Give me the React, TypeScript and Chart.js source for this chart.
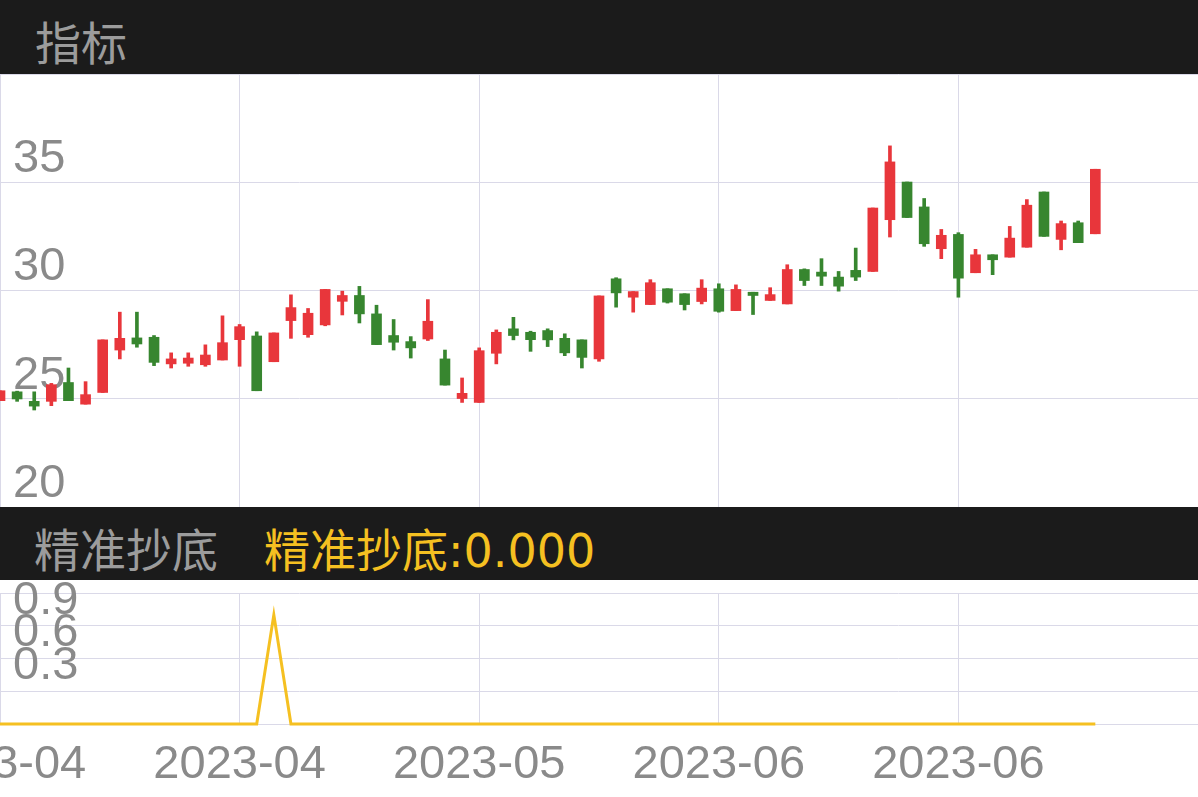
import React, { useEffect, useRef } from 'react';
import { Chart, registerables } from 'chart.js';

Chart.register(...registerables);

// ---- data ----
const openP = [
  24.91, 25.32, 24.88, 24.88, 25.75, 24.75, 25.29, 27.25, 27.81, 27.84,
  26.61, 26.64, 26.57, 26.79, 27.73, 27.90, 26.71, 28.61, 27.96, 28.41,
  29.50, 29.77, 28.92, 27.92, 27.64, 27.76, 26.84, 25.01, 24.83, 27.10,
  28.23, 28.07, 28.15, 27.79, 27.72, 26.84, 30.54, 29.69, 29.35, 30.08,
  29.85, 29.49, 30.08, 29.07, 29.92, 29.54, 29.38, 30.97, 30.85, 30.62,
  30.93, 30.88, 33.27, 35.01, 33.86, 31.93, 32.59, 30.82, 31.65, 31.54,
  32.00, 34.55, 32.36, 33.13, 32.62,
];
const closeP = [
  25.37, 24.99, 24.66, 25.65, 24.91, 25.19, 27.72, 27.79, 27.53, 26.68,
  26.84, 26.88, 27.02, 27.59, 28.33, 25.37, 28.04, 29.21, 28.95, 30.05,
  29.77, 28.92, 27.50, 27.61, 27.35, 28.58, 25.63, 25.25, 27.22, 28.07,
  27.92, 27.73, 27.72, 27.12, 26.91, 29.75, 29.89, 29.95, 30.36, 29.46,
  29.35, 30.11, 29.04, 30.05, 29.77, 29.81, 30.97, 30.46, 30.66, 30.20,
  30.62, 33.81, 35.94, 33.37, 32.16, 32.55, 30.57, 31.65, 31.42, 32.42,
  33.94, 32.50, 33.09, 32.21, 35.60,
];
const highP = [
  25.37, 25.35, 25.32, 25.71, 26.42, 25.79, 27.72, 29.00, 29.00, 27.92,
  27.12, 27.12, 27.49, 28.83, 28.43, 28.09, 28.04, 29.80, 29.17, 30.05,
  29.97, 30.19, 29.32, 28.66, 27.87, 29.58, 27.25, 25.96, 27.35, 28.18,
  28.76, 28.12, 28.23, 28.00, 27.72, 29.75, 30.59, 29.95, 30.50, 30.08,
  29.85, 30.50, 30.31, 30.26, 29.92, 30.13, 31.19, 31.00, 31.47, 30.88,
  31.96, 33.81, 36.68, 35.01, 34.25, 32.82, 32.67, 31.90, 31.65, 32.96,
  34.20, 34.55, 33.21, 33.21, 35.60,
];
const lowP = [
  24.91, 24.88, 24.48, 24.68, 24.91, 24.75, 25.29, 26.84, 27.38, 26.53,
  26.42, 26.50, 26.50, 26.79, 26.50, 25.37, 26.71, 27.79, 27.84, 28.37,
  28.87, 28.50, 27.50, 27.25, 26.88, 27.69, 25.63, 24.83, 24.83, 26.61,
  27.72, 27.19, 27.41, 26.99, 26.42, 26.73, 29.23, 29.00, 29.35, 29.42,
  29.10, 29.38, 29.00, 29.07, 28.89, 29.54, 29.38, 30.23, 30.23, 29.97,
  30.46, 30.88, 32.47, 33.37, 32.04, 31.47, 29.69, 30.82, 30.73, 31.54,
  32.00, 32.50, 31.88, 32.21, 32.62,
];
const signalValues = [
  0, 0, 0, 0, 0, 0, 0, 0, 0, 0,
  0, 0, 0, 0, 0, 0, 1, 0, 0, 0,
  0, 0, 0, 0, 0, 0, 0, 0, 0, 0,
  0, 0, 0, 0, 0, 0, 0, 0, 0, 0,
  0, 0, 0, 0, 0, 0, 0, 0, 0, 0,
  0, 0, 0, 0, 0, 0, 0, 0, 0, 0,
  0, 0, 0, 0, 0,
];
const xTickPositions = [0, 14, 28, 42, 56];
const xTickLabels = ['2023-04', '2023-04', '2023-05', '2023-06', '2023-06'];
const priceTicks = [20, 25, 30, 35, 40];
const signalTicks = [0, 0.3, 0.6, 0.9, 1.2];
const panelTitle = '指标';
const indicatorName = '精准抄底';
const indicatorValue = '精准抄底:0.000';

// ---- styles ----
const W = 1198;
const X_MAX = 70;
const RED = '#e8363b';
const GREEN = '#37862f';
const YELLOW = '#f5c021';
const GRID = '#dad9e8';
const LABEL = '#8a8a8a';
const DARK = '#1b1b1b';
const AXIS_FONT = 'Liberation Sans';
const HEAD_FONT = "'DejaVu Sans', 'Noto Sans CJK SC', sans-serif";

const noPad = (s: any) => {
  s.paddingLeft = 0;
  s.paddingRight = 0;
  s.paddingTop = 0;
  s.paddingBottom = 0;
};

export default function App() {
  const topRef = useRef<HTMLCanvasElement | null>(null);
  const botRef = useRef<HTMLCanvasElement | null>(null);

  useEffect(() => {
    const idx = openP.map((_, i) => i);
    const colors = idx.map((i) => (closeP[i] >= openP[i] ? RED : GREEN));

    const xGrid = {
      type: 'linear' as const,
      min: 0,
      max: X_MAX,
      offset: false,
      grid: { offset: false, color: GRID, drawTicks: false, lineWidth: 1 },
      border: { display: false },
      afterBuildTicks: (s: any) => {
        s.ticks = xTickPositions.map((v) => ({ value: v }));
      },
    };

    const top = new Chart(topRef.current!, {
      type: 'bar',
      data: {
        datasets: [
          {
            data: idx.map((i) => ({ x: i, y: [lowP[i], highP[i]] })) as any,
            backgroundColor: colors,
            borderWidth: 0,
            barThickness: 3,
            grouped: false,
            order: 2,
          } as any,
          {
            data: idx.map((i) => ({ x: i, y: [openP[i], closeP[i]] })) as any,
            backgroundColor: colors,
            borderWidth: 0,
            barThickness: 10,
            grouped: false,
            order: 1,
          } as any,
        ],
      },
      options: {
        animation: false,
        responsive: false,
        maintainAspectRatio: false,
        events: [],
        layout: { padding: 0 },
        plugins: { legend: { display: false }, tooltip: { enabled: false } },
        scales: {
          x: {
            ...xGrid,
            ticks: { display: false, autoSkip: false },
            afterFit: (s: any) => {
              s.height = 0;
              noPad(s);
            },
          } as any,
          y: {
            min: 20,
            max: 40,
            afterBuildTicks: (s: any) => {
              s.ticks = priceTicks.map((v) => ({ value: v }));
            },
            grid: { color: GRID, drawTicks: false },
            border: { display: false },
            ticks: {
              autoSkip: false,
              mirror: true,
              padding: 13,
              labelOffset: -23,
              color: LABEL,
              font: { size: 47, family: AXIS_FONT },
              callback: (v: any) => (v === 40 ? '' : String(v)),
            },
            afterFit: (s: any) => {
              s.width = 0;
              noPad(s);
            },
          } as any,
        },
      },
    });

    const bot = new Chart(botRef.current!, {
      type: 'line',
      data: {
        datasets: [
          {
            data: idx.map((i) => ({ x: i, y: signalValues[i] })),
            borderColor: YELLOW,
            borderWidth: 3,
            pointRadius: 0,
            tension: 0,
            fill: false,
            clip: false,
          } as any,
        ],
      },
      options: {
        animation: false,
        responsive: false,
        maintainAspectRatio: false,
        events: [],
        layout: { padding: { top: 13, left: 0, right: 0, bottom: 0 } },
        plugins: { legend: { display: false }, tooltip: { enabled: false } },
        scales: {
          x: {
            ...xGrid,
            ticks: {
              autoSkip: false,
              maxRotation: 0,
              minRotation: 0,
              padding: 13,
              color: LABEL,
              font: { size: 47, family: AXIS_FONT },
              callback: (v: any) => {
                const k = xTickPositions.indexOf(Number(v));
                return k >= 0 ? xTickLabels[k] : '';
              },
            },
            afterFit: (s: any) => {
              s.height = 73;
              noPad(s);
            },
          } as any,
          y: {
            min: 0,
            max: 1.2,
            afterBuildTicks: (s: any) => {
              s.ticks = signalTicks.map((v) => ({ value: v }));
            },
            grid: { color: GRID, drawTicks: false },
            border: { display: false },
            ticks: {
              autoSkip: false,
              mirror: true,
              padding: 13,
              labelOffset: -25,
              color: LABEL,
              font: { size: 47, family: AXIS_FONT },
              callback: (v: any) =>
                v === 0 || v === 1.2 ? '' : Number(v).toFixed(1),
            },
            afterFit: (s: any) => {
              s.width = 0;
              noPad(s);
            },
          } as any,
        },
      },
    });

    return () => {
      top.destroy();
      bot.destroy();
    };
  }, []);

  const headText: React.CSSProperties = {
    position: 'absolute',
    top: 21,
    fontSize: 46,
    lineHeight: '46px',
    fontFamily: HEAD_FONT,
    whiteSpace: 'nowrap',
  };

  return (
    <div
      style={{
        position: 'fixed',
        left: 0,
        top: 0,
        width: W,
        height: 797,
        background: '#ffffff',
        overflow: 'hidden',
      }}
    >
      <div style={{ position: 'absolute', left: 0, top: 0, width: W, height: 74, background: DARK }}>
        <span style={{ ...headText, left: 35, color: '#9c9c9c' }}>{panelTitle}</span>
      </div>
      <canvas
        ref={topRef}
        width={W}
        height={433}
        style={{ position: 'absolute', left: 0, top: 74, width: W, height: 433, display: 'block' }}
      />
      <div style={{ position: 'absolute', left: 0, top: 507, width: W, height: 73, background: DARK }}>
        <span style={{ ...headText, left: 34, color: '#9c9c9c' }}>{indicatorName}</span>
        <span style={{ ...headText, left: 264, color: YELLOW }}>{indicatorValue}</span>
      </div>
      <canvas
        ref={botRef}
        width={W}
        height={217}
        style={{ position: 'absolute', left: 0, top: 580, width: W, height: 217, display: 'block' }}
      />
    </div>
  );
}
